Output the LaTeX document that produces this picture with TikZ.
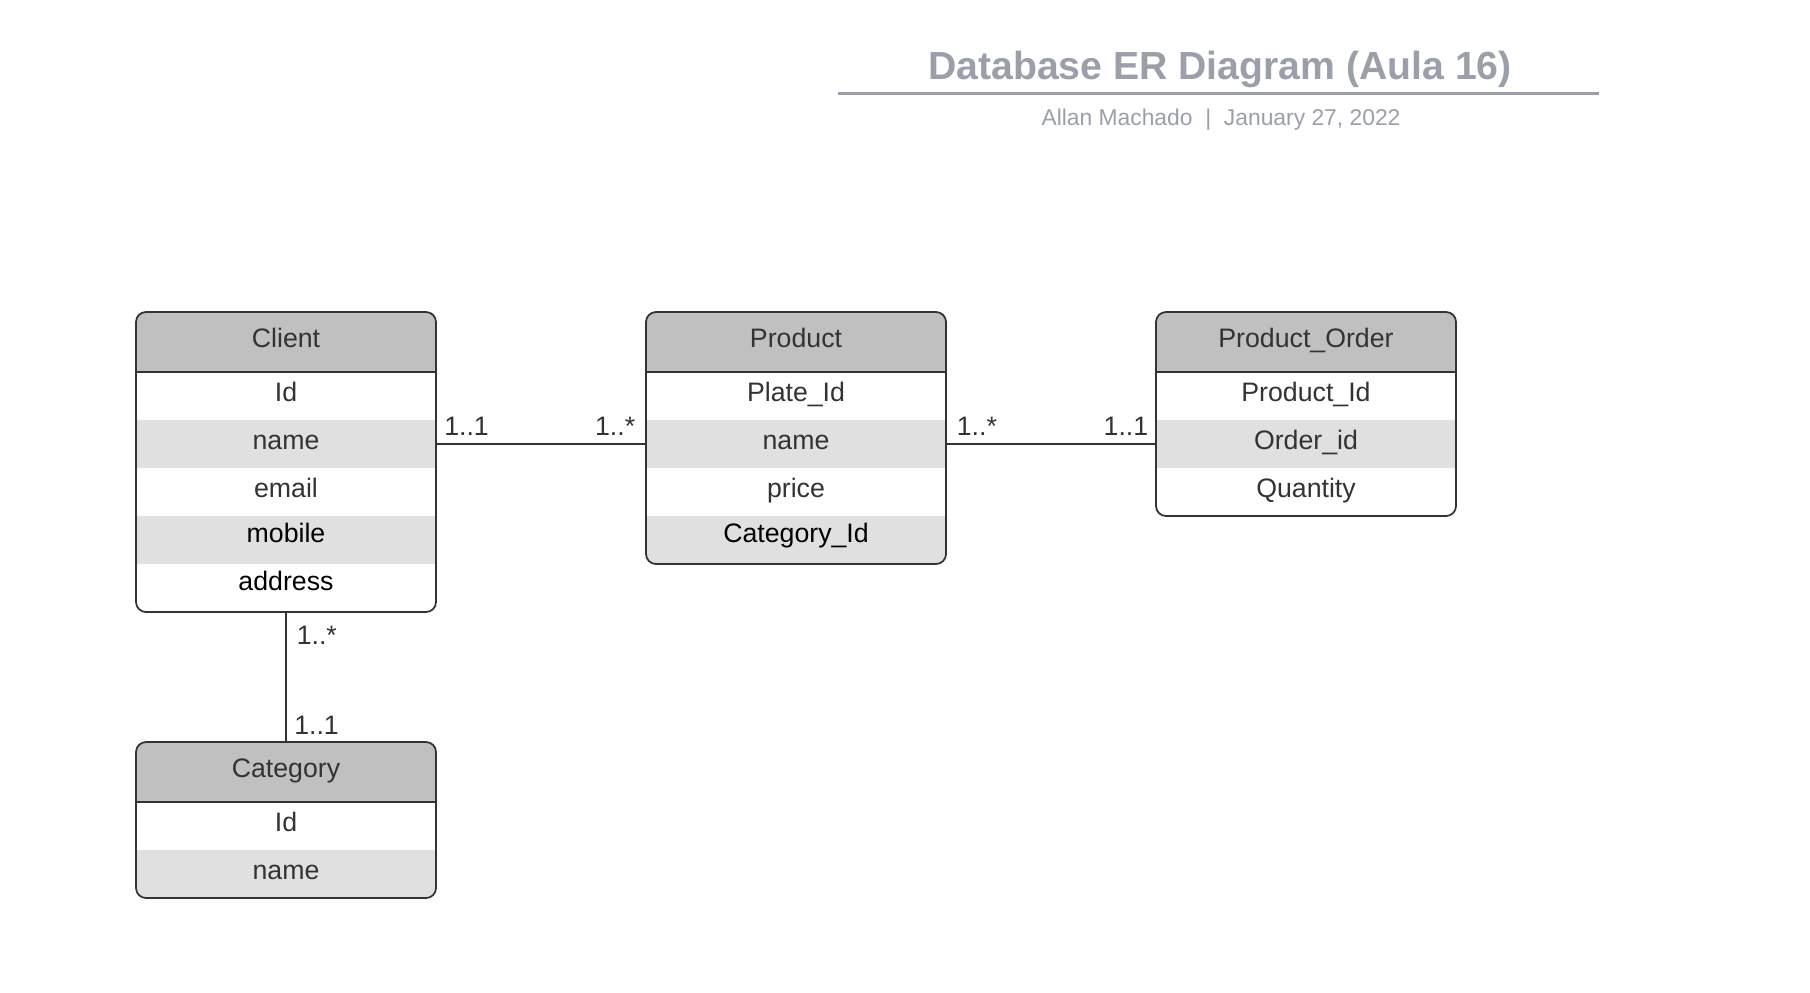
\documentclass[tikz,border=0pt]{standalone}
\usepackage{fontspec}
\setmainfont{Liberation Sans}
\usetikzlibrary{positioning}
\definecolor{headgray}{HTML}{C0C0C0}
\definecolor{rowgray}{HTML}{E0E0E0}
\definecolor{ink}{HTML}{333333}
\definecolor{titlegray}{HTML}{9A9FA9}
\begin{document}
\begin{tikzpicture}[
        font=\fontsize{7.6}{9}\selectfont,
        rowbox/.style={minimum width=\Width cm, minimum height=\Row cm, inner sep=0pt, outer sep=0pt, text=ink, text height=7.5pt, text depth=4.1pt},
        headbox/.style={rowbox, minimum height=\Head cm, fill=headgray, anchor=north west},
        gry/.style={},
        blk/.style={text=black, text height=6.5pt, text depth=5.1pt},
        tablebox/.style={draw=ink, line width=0.5pt, rounded corners=0.1cm},
        link/.style={draw=ink, line width=0.45pt},
        mult/.style={inner sep=0pt, text=ink}
    ]
        \pgfmathsetmacro{\Width}{3}
        \pgfmathsetmacro{\Head}{0.6}
        \pgfmathsetmacro{\Row}{0.48}
        \useasboundingbox (0,0) rectangle (18.10,-9.92);

        \coordinate (CL) at (1.36,-3.12);
        \coordinate (PR) at (6.46,-3.12);
        \coordinate (PO) at (11.56,-3.12);
        \coordinate (CA) at (1.36,-7.42);

        % Title
        \node[anchor=base, text=titlegray, font=\fontsize{11.15}{13}\selectfont\bfseries] (title) at (12.20,-0.79) {Database ER Diagram (Aula 16)};
        \draw[titlegray, line width=0.85pt] (8.38,-0.935) -- (15.99,-0.935);
        \node[anchor=base, text=titlegray, font=\fontsize{6.5}{8}\selectfont] (subtitle) at (12.21,-1.25) {Allan Machado\ \ |\ \ January 27, 2022};

        % Client
        \begin{scope}
            \clip[rounded corners=0.1cm] (CL) rectangle ++(\Width,-\Head-5*\Row);
            \node[headbox] (client-0) at (CL) {Client};
            \foreach \txt/\bg/\st [count=\i] in {Id/white/gry,name/rowgray/gry,email/white/gry,mobile/rowgray/blk,address/white/blk}{
                \pgfmathtruncatemacro{\j}{\i-1}
                \node[rowbox, fill=\bg, \st, below=0pt of client-\j] (client-\i) {\txt};
            }
        \end{scope}
        \draw[ink, line width=0.5pt] (client-0.south west) -- (client-0.south east);
        \draw[tablebox] (client-0.north west) rectangle (client-5.south east);

        % Product
        \begin{scope}
            \clip[rounded corners=0.1cm] (PR) rectangle ++(\Width,-\Head-4*\Row);
            \node[headbox] (product-0) at (PR) {Product};
            \foreach \txt/\bg/\st [count=\i] in {Plate\_Id/white/gry,name/rowgray/gry,price/white/gry,Category\_Id/rowgray/blk}{
                \pgfmathtruncatemacro{\j}{\i-1}
                \node[rowbox, fill=\bg, \st, below=0pt of product-\j] (product-\i) {\txt};
            }
        \end{scope}
        \draw[ink, line width=0.5pt] (product-0.south west) -- (product-0.south east);
        \draw[tablebox] (product-0.north west) rectangle (product-4.south east);

        % Product_Order
        \begin{scope}
            \clip[rounded corners=0.1cm] (PO) rectangle ++(\Width,-\Head-3*\Row);
            \node[headbox] (order-0) at (PO) {Product\_Order};
            \foreach \txt/\bg/\st [count=\i] in {Product\_Id/white/gry,Order\_id/rowgray/gry,Quantity/white/gry}{
                \pgfmathtruncatemacro{\j}{\i-1}
                \node[rowbox, fill=\bg, \st, below=0pt of order-\j] (order-\i) {\txt};
            }
        \end{scope}
        \draw[ink, line width=0.5pt] (order-0.south west) -- (order-0.south east);
        \draw[tablebox] (order-0.north west) rectangle (order-3.south east);

        % Category
        \begin{scope}
            \clip[rounded corners=0.1cm] (CA) rectangle ++(\Width,-\Head-2*\Row);
            \node[headbox] (category-0) at (CA) {Category};
            \foreach \txt/\bg/\st [count=\i] in {Id/white/gry,name/rowgray/gry}{
                \pgfmathtruncatemacro{\j}{\i-1}
                \node[rowbox, fill=\bg, \st, below=0pt of category-\j] (category-\i) {\txt};
            }
        \end{scope}
        \draw[ink, line width=0.5pt] (category-0.south west) -- (category-0.south east);
        \draw[tablebox] (category-0.north west) rectangle (category-2.south east);

        % Relations
        \draw[link] (client-2.east) -- node[mult, pos=0, anchor=base west, xshift=0.075cm, yshift=0.085cm] {1..1}
            node[mult, pos=1, anchor=base east, xshift=-0.1cm, yshift=0.085cm] {1..*} (product-2.west);
        \draw[link] (product-2.east) -- node[mult, pos=0, anchor=base west, xshift=0.1cm, yshift=0.085cm] {1..*}
            node[mult, pos=1, anchor=base east, xshift=-0.07cm, yshift=0.085cm] {1..1} (order-2.west);
        \draw[link] (client-5.south) -- node[mult, pos=0, anchor=base west, xshift=0.1cm, yshift=-0.32cm] {1..*}
            node[mult, pos=1, anchor=base west, xshift=0.075cm, yshift=0.08cm] {1..1} (category-0.north);
    \end{tikzpicture}
\end{document}
